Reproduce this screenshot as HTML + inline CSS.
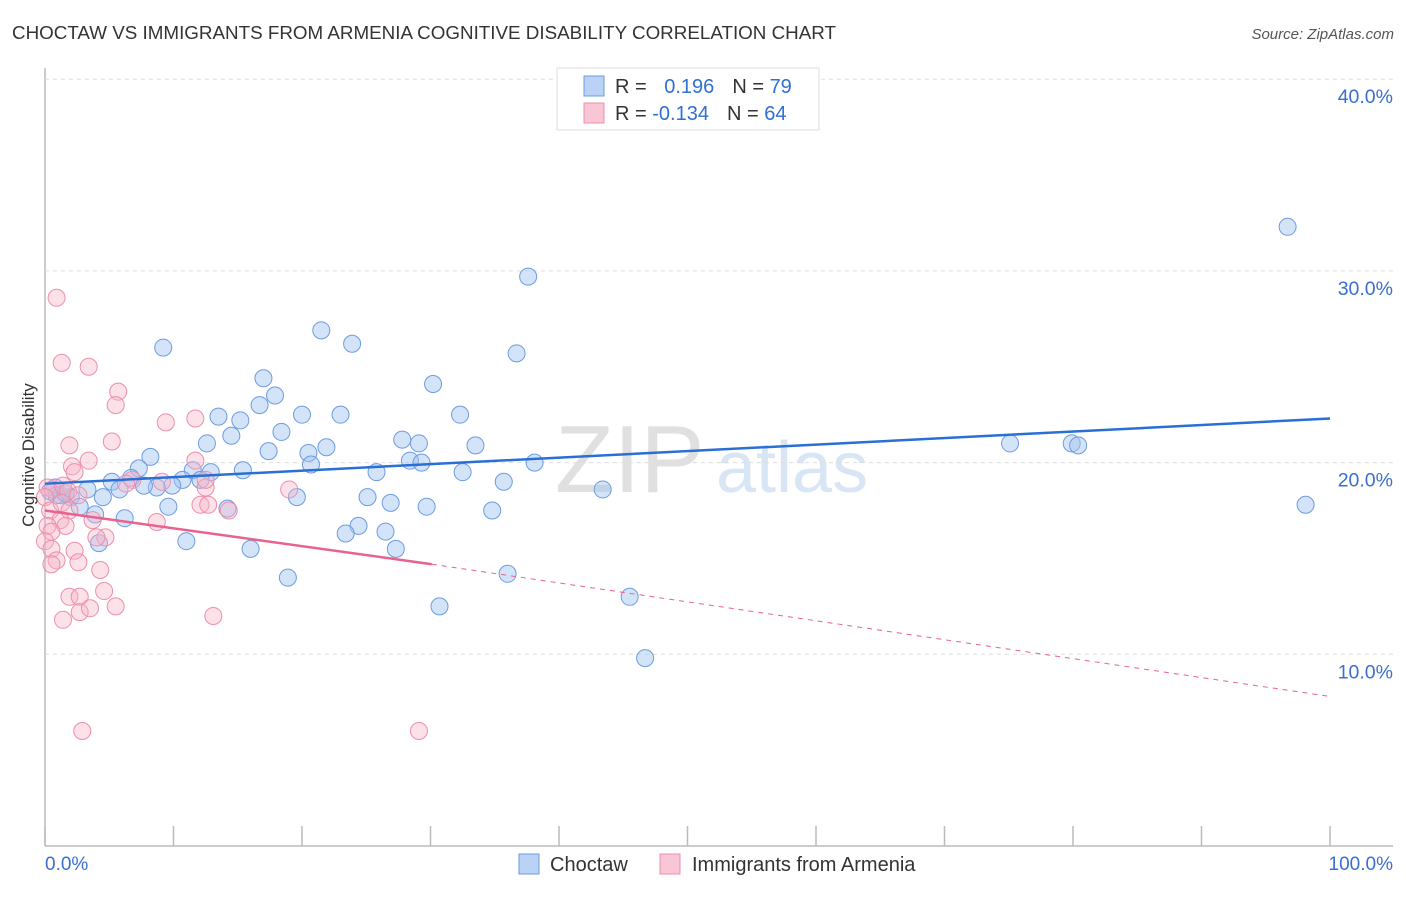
<!DOCTYPE html>
<html><head><meta charset="utf-8"><style>
body{margin:0;background:#fff;font-family:"Liberation Sans",sans-serif}
svg text{font-family:"Liberation Sans",sans-serif}
</style></head><body>
<svg id="c" width="1406" height="892">
<text x="12" y="39" font-size="18" fill="#333" textLength="824" lengthAdjust="spacingAndGlyphs">CHOCTAW VS IMMIGRANTS FROM ARMENIA COGNITIVE DISABILITY CORRELATION CHART</text>
<text x="1394" y="39" font-size="15" fill="#555" font-style="italic" text-anchor="end">Source: ZipAtlas.com</text>
<text x="555" y="492" font-size="96" fill="#e0e0e0" font-family="Liberation Serif">ZIP</text>
<text x="716" y="492" font-size="72" fill="#d8e5f5">atlas</text>
<g id="grid"></g><g id="marks"></g>
<text transform="translate(34,455) rotate(-90)" font-size="17" fill="#333" text-anchor="middle">Cognitive Disability</text>
<text x="45" y="870" font-size="19" fill="#3a6fd0">0.0%</text>
<text x="1393" y="870" font-size="19" fill="#3a6fd0" text-anchor="end">100.0%</text>
<g>
<rect x="557" y="68" width="262" height="62" fill="#fff" stroke="#ddd"/>
<rect x="584" y="76" width="20" height="20" fill="#b9d2f5" stroke="#6d9be0"/>
<rect x="584" y="103" width="20" height="20" fill="#f9c6d5" stroke="#ec8fab"/>
<text x="615" y="93" font-size="20" fill="#333">R = <tspan fill="#2f6fd6" dx="12">0.196</tspan><tspan dx="18">N = </tspan><tspan fill="#2f6fd6">79</tspan></text>
<text x="615" y="120" font-size="20" fill="#333">R = <tspan fill="#2f6fd6">-0.134</tspan><tspan dx="18">N = </tspan><tspan fill="#2f6fd6">64</tspan></text>
</g>
<g>
<rect x="519" y="854" width="20" height="20" fill="#b9d2f5" stroke="#6d9be0"/>
<text x="550" y="871" font-size="20" fill="#333">Choctaw</text>
<rect x="660" y="854" width="20" height="20" fill="#f9c6d5" stroke="#ec8fab"/>
<text x="692" y="871" font-size="20" fill="#333">Immigrants from Armenia</text>
</g>
</svg>
<script>
const yTicks=[10,20,30,40];
const xTicks=[0,10,20,30,40,50,60,70,80,90,100];
const blueX=[9.2,21.5,23.9,37.6,36.7,96.7,17.0,17.9,30.2,16.7,20.0,23.0,32.3,13.5,15.2,14.5,18.4,12.6,27.8,29.1,21.9,33.5,75.1,79.9,80.4,8.2,17.4,20.5,20.7,28.4,29.3,38.1,7.3,11.5,15.4,12.9,25.8,32.5,10.7,12.1,6.7,5.2,9.9,8.7,7.7,5.8,3.3,0.8,0.4,1.2,2.0,4.5,25.1,19.6,26.9,35.7,43.4,14.2,29.7,34.8,9.6,2.7,3.9,6.2,24.4,23.4,26.5,98.1,11.0,4.2,16.0,27.3,18.9,36.0,45.5,30.7,46.7,0.9,1.6];
const blueY=[26.0,26.9,26.2,29.7,25.7,32.3,24.4,23.5,24.1,23.0,22.5,22.5,22.5,22.4,22.2,21.4,21.6,21.0,21.2,21.0,20.8,20.9,21.0,21.0,20.9,20.3,20.6,20.5,19.9,20.1,20.0,20.0,19.7,19.6,19.6,19.5,19.5,19.5,19.1,19.1,19.2,19.0,18.8,18.7,18.8,18.6,18.6,18.7,18.5,18.3,18.2,18.2,18.2,18.2,17.9,19.0,18.6,17.6,17.7,17.5,17.7,17.7,17.3,17.1,16.7,16.3,16.4,17.8,15.9,15.8,15.5,15.5,14.0,14.2,13.0,12.5,9.8,18.3,18.4];
const pinkX=[0.9,1.3,3.4,5.7,5.5,9.4,11.7,1.9,5.2,3.4,2.1,11.7,2.3,6.8,9.1,12.5,12.5,19.0,0.2,0.6,1.4,1.8,2.6,0,0.4,1.3,1.9,12.1,12.7,14.3,1.2,1.6,8.7,0.2,0.5,0,4.7,4.0,0.5,2.3,0.9,0.5,2.6,4.3,1.9,2.7,4.6,2.7,3.5,5.5,1.4,13.1,2.9,29.1,6.3,3.7];
const pinkY=[28.6,25.2,25.0,23.7,23.0,22.1,22.3,20.9,21.1,20.1,19.8,20.1,19.5,19.1,19.0,18.7,19.1,18.6,18.7,18.6,18.8,18.5,18.3,18.2,17.5,17.9,17.5,17.8,17.8,17.5,17.0,16.7,16.9,16.7,16.4,15.9,16.1,16.1,15.5,15.4,14.9,14.7,14.8,14.4,13.0,13.0,13.3,12.2,12.4,12.5,11.8,12.0,6.0,6.0,18.9,17.0];
const blueLine=[18.9,22.3];
const pinkLine=[17.5,14.7,7.8];const pinkSolidEnd=30.1;
const X=v=>45+v*12.85, Y=v=>846-v*19.17;
const NS="http://www.w3.org/2000/svg";
const g=document.getElementById('grid'),m=document.getElementById('marks');
function el(t,a,p){const e=document.createElementNS(NS,t);for(const k in a)e.setAttribute(k,a[k]);p.appendChild(e);return e;}
const ax=el('line',{x1:45,y1:68,x2:45,y2:846,stroke:'#bbb','stroke-width':1.5},g);


const bx=el('line',{x1:45,y1:846,x2:1393,y2:846,stroke:'#bbb','stroke-width':1.5},g);


yTicks.forEach(t=>{
 const l=el('line',{x1:45,y1:Y(t),x2:1393,y2:Y(t),stroke:'#ddd','stroke-dasharray':'4,4'},g);
 
 
 const tx=el('text',{x:1393,y:Y(t)+24,'font-size':19.5,fill:'#3a6fd0','text-anchor':'end'},g);tx.textContent=t.toFixed(1)+'%';
 
 
});
xTicks.forEach(t=>{
 const l=el('line',{x1:X(t),y1:826,x2:X(t),y2:846,stroke:'#bbb','stroke-width':1.5},g);
 
 
});
blueX.forEach((v,i)=>{const c=el('circle',{cx:X(v),cy:Y(blueY[i]),r:8.5,fill:'rgba(160,195,240,0.45)',stroke:'#6d9be0','stroke-width':1},m);
 
 });
pinkX.forEach((v,i)=>{const c=el('circle',{cx:X(v),cy:Y(pinkY[i]),r:8.5,fill:'rgba(247,180,200,0.4)',stroke:'#ec8fab','stroke-width':1},m);
 
 });
const bl=el('line',{x1:X(0),y1:Y(blueLine[0]),x2:X(100),y2:Y(blueLine[1]),stroke:'#2a6fd6','stroke-width':2.5},m);


const pl=el('line',{x1:X(0),y1:Y(pinkLine[0]),x2:X(pinkSolidEnd),y2:Y(pinkLine[1]),stroke:'#e8628d','stroke-width':2.5},m);


const pd=el('line',{x1:X(pinkSolidEnd),y1:Y(pinkLine[1]),x2:X(100),y2:Y(pinkLine[2]),stroke:'#e8628d','stroke-width':1,'stroke-dasharray':'5,5'},m);


</script>
</body></html>
